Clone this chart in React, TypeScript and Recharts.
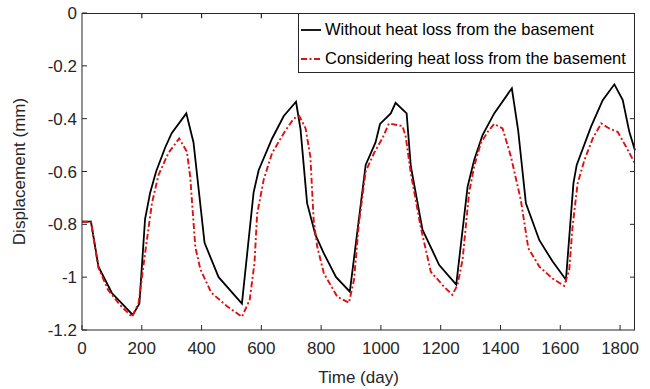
import { LineChart, Line, XAxis, YAxis, Legend, ReferenceLine } from "recharts"

const xTicks = [0, 200, 400, 600, 800, 1000, 1200, 1400, 1600, 1800]
const yTicks = [-1.2, -1, -0.8, -0.6, -0.4, -0.2, 0]
const seriesNames = ["Without heat loss from the basement", "Considering heat loss from the basement"]

// without heat loss from the basement
const noLossDays = [
  0, 30, 55, 100, 170, 192, 211, 228, 248, 278, 300, 349, 373, 410, 457, 535, 574, 591, 636, 675,
  716, 731, 753, 781, 809, 850, 896, 949, 982, 997, 1033, 1049, 1086, 1100, 1139, 1195, 1252, 1290,
  1312, 1340, 1379, 1438, 1459, 1485, 1530, 1574, 1619, 1644, 1655, 1703, 1742, 1781, 1809, 1831, 1850,
]
const noLossDisp = [
  -0.79, -0.79, -0.96, -1.06, -1.143, -1.1, -0.78, -0.68, -0.6, -0.51, -0.455, -0.38, -0.49, -0.87,
  -1.0, -1.1, -0.68, -0.595, -0.475, -0.39, -0.336, -0.44, -0.72, -0.84, -0.91, -1.0, -1.055, -0.575,
  -0.49, -0.42, -0.38, -0.34, -0.38, -0.58, -0.82, -0.954, -1.028, -0.657, -0.556, -0.462, -0.38,
  -0.285, -0.443, -0.72, -0.86, -0.94, -1.01, -0.645, -0.575, -0.43, -0.33, -0.27, -0.33, -0.45, -0.52,
]

// considering heat loss from the basement
const lossDays = [
  0, 30, 55, 88, 127, 167, 189, 211, 234, 256, 289, 325, 351, 362, 379, 396, 432, 485, 535, 561, 577,
  586, 608, 636, 675, 708, 727, 748, 764, 775, 787, 809, 854, 893, 910, 926, 949, 977, 1005, 1027,
  1072, 1083, 1100, 1133, 1167, 1211, 1239, 1256, 1273, 1295, 1312, 1334, 1357, 1379, 1407, 1435,
  1468, 1493, 1530, 1574, 1613, 1630, 1641, 1658, 1681, 1709, 1737, 1764, 1792, 1820, 1850,
]
const lossDisp = [
  -0.79, -0.79, -0.965, -1.05, -1.105, -1.15, -1.1, -0.91, -0.72, -0.613, -0.53, -0.475, -0.525, -0.62,
  -0.885, -0.97, -1.058, -1.11, -1.15, -1.086, -0.947, -0.76, -0.63, -0.53, -0.455, -0.4, -0.39,
  -0.437, -0.544, -0.784, -0.885, -0.985, -1.074, -1.097, -1.01, -0.8, -0.6, -0.53, -0.474, -0.418,
  -0.428, -0.468, -0.607, -0.81, -0.98, -1.036, -1.067, -1.03, -0.935, -0.68, -0.58, -0.493, -0.45,
  -0.42, -0.437, -0.544, -0.708, -0.89, -0.96, -1.005, -1.033, -0.973, -0.81, -0.645, -0.556, -0.474,
  -0.418, -0.437, -0.45, -0.506, -0.57,
]

const noLoss = noLossDays.map((day, i) => ({ day, disp: noLossDisp[i] }))
const loss = lossDays.map((day, i) => ({ day, disp: lossDisp[i] }))

const xMax = 1850
const axisColor = "#262626"
const font = "'Liberation Sans', Arial, sans-serif"
const fs = 17
const redDash = "6 2.5 2 2.5"
// inward tick length for the top / right box edges, in data units (~5px)
const topTickLen = 0.02
const rightTickLen = 17

// chart margins / axis sizes, shared with the frame overlay
const W = 650
const H = 389
const M = { top: 13, right: 15, left: 0, bottom: 0 }
const yAxisW = 82
const xAxisH = 59

function LegendBox({ payload }: any) {
  const items = seriesNames
    .map((n) => (payload || []).find((p: any) => p.value === n))
    .filter(Boolean)
  return (
    <div style={{ fontFamily: font, fontSize: 16.5, color: "#000", paddingTop: 1 }}>
      {items.map((p: any, i: number) => (
        <div key={i} style={{ display: "flex", alignItems: "center", height: 29 }}>
          <svg width={26} height={10} style={{ flex: "none" }}>
            <line
              x1={2}
              x2={22}
              y1={5}
              y2={5}
              stroke={p.color}
              strokeWidth={i === 0 ? 1.8 : 2}
              strokeDasharray={i === 0 ? undefined : redDash}
            />
          </svg>
          <span style={{ whiteSpace: "nowrap" }}>{p.value}</span>
        </div>
      ))}
    </div>
  )
}

export default function App() {
  return (
    <div style={{ position: "absolute", left: 0, top: 0, width: W, height: H, background: "#fff" }}>
      <LineChart width={W} height={H} margin={M}>
        <XAxis
          dataKey="day"
          type="number"
          domain={[0, xMax]}
          ticks={xTicks}
          height={xAxisH}
          tickSize={-5}
          tickMargin={17}
          stroke={axisColor}
          tick={{ fill: axisColor, fontSize: fs, fontFamily: font }}
          label={{ value: "Time (day)", position: "insideBottom", offset: 6, fill: axisColor, fontSize: fs, fontFamily: font }}
        />
        <YAxis
          dataKey="disp"
          type="number"
          domain={[-1.2, 0]}
          ticks={yTicks}
          width={yAxisW}
          tickSize={-5}
          tickMargin={10}
          stroke={axisColor}
          tick={{ fill: axisColor, fontSize: fs, fontFamily: font }}
          label={{
            value: "Displacement (mm)",
            angle: -90,
            position: "insideLeft",
            offset: 19,
            fill: axisColor,
            fontSize: fs,
            fontFamily: font,
            style: { textAnchor: "middle" },
          }}
        />
        {xTicks.slice(1).map((t) => (
          <ReferenceLine
            key={`tx${t}`}
            segment={[{ x: t, y: -0.001 }, { x: t, y: -topTickLen }]}
            stroke={axisColor}
            strokeWidth={1.2}
          />
        ))}
        {yTicks.slice(1, -1).map((t) => (
          <ReferenceLine
            key={`ty${t}`}
            segment={[{ x: xMax, y: t }, { x: xMax - rightTickLen, y: t }]}
            stroke={axisColor}
          />
        ))}
        <Legend
          layout="vertical"
          align="center"
          verticalAlign="middle"
          wrapperStyle={{
            top: 13,
            left: 298,
            width: 337,
            height: 60,
            boxSizing: "border-box",
            border: `1px solid ${axisColor}`,
            background: "#fff",
          }}
          content={<LegendBox />}
        />
        <Line
          data={noLoss}
          dataKey="disp"
          name={seriesNames[0]}
          stroke="#000"
          strokeWidth={1.8}
          dot={false}
          activeDot={false}
          isAnimationActive={false}
        />
        <Line
          data={loss}
          dataKey="disp"
          name={seriesNames[1]}
          stroke="#dd1111"
          strokeWidth={1.9}
          strokeDasharray={redDash}
          dot={false}
          activeDot={false}
          isAnimationActive={false}
        />
      </LineChart>
      {/* top / right edges of the axes box, laid over the plot area */}
      <div
        style={{
          position: "absolute",
          left: M.left + yAxisW,
          top: M.top,
          width: W - M.left - M.right - yAxisW,
          height: H - M.top - M.bottom - xAxisH,
          boxSizing: "border-box",
          borderTop: `1px solid ${axisColor}`,
          borderRight: `1px solid ${axisColor}`,
          pointerEvents: "none",
        }}
      />
    </div>
  )
}
